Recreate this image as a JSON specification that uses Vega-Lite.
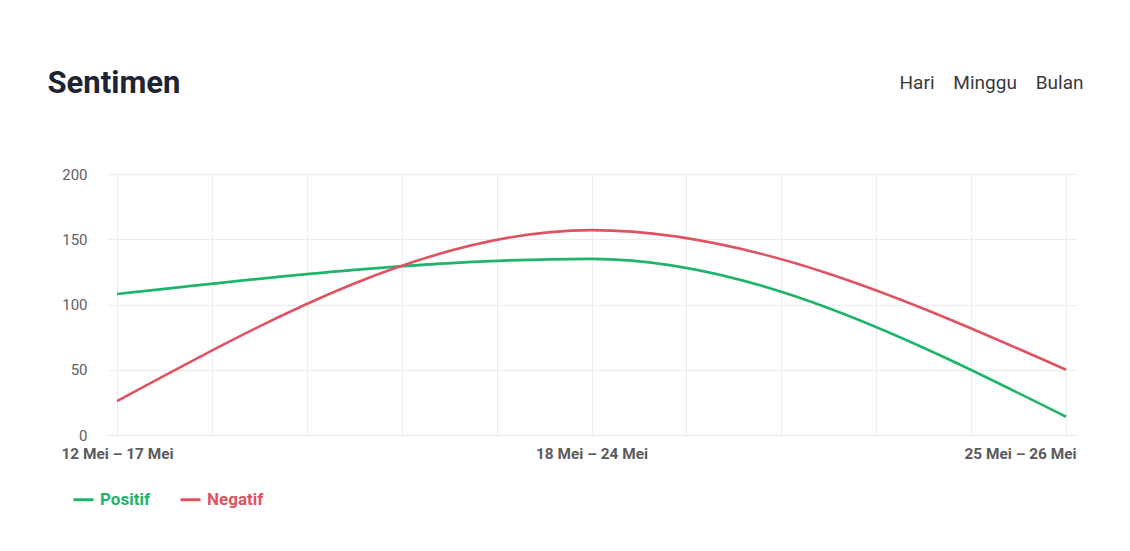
{
  "$schema": "https://vega.github.io/schema/vega-lite/v6.json",
  "autosize": {"type": "none"},
  "width": 969,
  "height": 261,
  "padding": {"left": 108, "top": 174, "right": 53, "bottom": 116},
  "background": "white",
  "config": {"font": "Roboto", "view": {"stroke": null}},
  "data": {
    "values": [
      {"periode": "12 Mei – 17 Mei", "idx": 0, "sentimen": "Positif", "jumlah": 108},
      {"periode": "18 Mei – 24 Mei", "idx": 1, "sentimen": "Positif", "jumlah": 135},
      {"periode": "25 Mei – 26 Mei", "idx": 2, "sentimen": "Positif", "jumlah": 14},
      {"periode": "12 Mei – 17 Mei", "idx": 0, "sentimen": "Negatif", "jumlah": 26},
      {"periode": "18 Mei – 24 Mei", "idx": 1, "sentimen": "Negatif", "jumlah": 157},
      {"periode": "25 Mei – 26 Mei", "idx": 2, "sentimen": "Negatif", "jumlah": 50}
    ]
  },
  "layer": [
    {
      "mark": {"type": "line", "interpolate": "monotone", "strokeWidth": 2.6},
      "encoding": {
        "x": {
          "field": "idx",
          "type": "quantitative",
          "scale": {"domain": [-0.019, 2.023], "nice": false, "zero": false},
          "axis": {
            "title": null,
            "values": [0, 0.2, 0.4, 0.6, 0.8, 1, 1.2, 1.4, 1.6, 1.8, 2],
            "labelExpr": "datum.value == 0 ? '12 Mei – 17 Mei' : datum.value == 1 ? '18 Mei – 24 Mei' : datum.value == 2 ? '25 Mei – 26 Mei' : ''",
            "labelAlign": {"condition": {"test": "datum.value == 2", "value": "right"}, "value": "center"},
            "labelOffset": {"condition": {"test": "datum.value == 2", "value": 10}, "value": 0},
            "labelFontSize": 15.4,
            "labelFontWeight": "bold",
            "labelColor": "#5b5b5b",
            "labelPadding": 11,
            "labelOverlap": false,
            "labelBound": false,
            "ticks": false,
            "grid": true,
            "gridColor": "#ececec",
            "gridWidth": 1,
            "domain": true,
            "domainColor": "#e6e6e6",
            "domainWidth": 1
          }
        },
        "y": {
          "field": "jumlah",
          "type": "quantitative",
          "scale": {"domain": [0, 200], "nice": false},
          "axis": {
            "title": "Sentimen",
            "titleAngle": 0,
            "titleX": -61,
            "titleY": -82,
            "titleAlign": "left",
            "titleBaseline": "alphabetic",
            "titleFontSize": 31,
            "titleFontWeight": "bold",
            "titleColor": "#1d2433",
            "values": [0, 50, 100, 150, 200],
            "labelFontSize": 15,
            "labelColor": "#5f5f5f",
            "labelPadding": 21,
            "ticks": false,
            "domain": false,
            "grid": true,
            "gridColor": "#ececec",
            "gridWidth": 1
          }
        },
        "color": {
          "field": "sentimen",
          "type": "nominal",
          "scale": {"domain": ["Positif", "Negatif"], "range": ["#1db46c", "#df5360"]},
          "legend": {
            "title": null,
            "orient": "none",
            "legendX": -36,
            "legendY": 314,
            "direction": "horizontal",
            "symbolType": "stroke",
            "symbolSize": 400,
            "symbolStrokeWidth": 3,
            "labelFontSize": 17,
            "labelFontWeight": "bold",
            "labelOffset": 5,
            "columnPadding": 23,
            "encode": {
              "labels": {
                "update": {
                  "fill": {"signal": "datum.label === 'Positif' ? '#1db46c' : '#df5360'"}
                }
              }
            }
          }
        }
      }
    },
    {
      "mark": {"type": "line", "opacity": 0},
      "encoding": {
        "x": {
          "field": "idx",
          "type": "quantitative",
          "axis": {
            "orient": "top",
            "title": "Hari\u00a0\u00a0\u00a0\u00a0Minggu\u00a0\u00a0\u00a0\u00a0Bulan",
            "titleX": 975,
            "titleY": -86,
            "titleAlign": "right",
            "titleAnchor": "end",
            "titleBaseline": "alphabetic",
            "titleFontSize": 19,
            "titleFontWeight": "normal",
            "titleColor": "#3a3a3a",
            "labels": false,
            "ticks": false,
            "domain": false,
            "grid": false
          }
        },
        "y": {"field": "jumlah", "type": "quantitative"}
      }
    }
  ],
  "resolve": {"axis": {"x": "independent"}}
}
